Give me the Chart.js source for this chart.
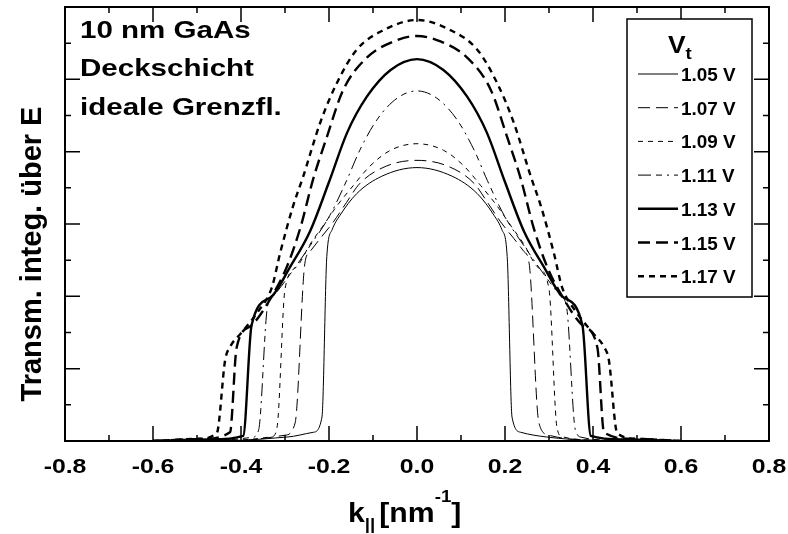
<!DOCTYPE html>
<html>
<head>
<meta charset="utf-8">
<script src="https://cdn.jsdelivr.net/npm/chart.js@4"></script>
<style>
  html, body { margin: 0; padding: 0; background: #fff; }
</style>
</head>
<body>
<canvas id="chartCanvas" width="788" height="534"></canvas>
<script>
// Transmission integrated over E versus parallel wave vector, one curve per bias
const voltages = ['1.05 V', '1.07 V', '1.09 V', '1.11 V', '1.13 V', '1.15 V', '1.17 V'];

const k105 = [-0.6, -0.4, -0.295, -0.236, -0.216, -0.205, -0.193, -0.175, -0.137, -0.08, 0, 0.08, 0.137, 0.175, 0.193, 0.205, 0.216, 0.236, 0.295, 0.4, 0.6];
const t105 = [0, 0.01, 0.055, 0.12, 0.33, 2.55, 2.92, 3.12, 3.42, 3.66, 3.78, 3.66, 3.42, 3.12, 2.92, 2.55, 0.33, 0.12, 0.055, 0.01, 0];

const k107 = [-0.6, -0.4, -0.3, -0.277, -0.255, -0.243, -0.22, -0.19, -0.16, -0.13, -0.07, 0, 0.07, 0.13, 0.16, 0.19, 0.22, 0.243, 0.255, 0.277, 0.3, 0.4, 0.6];
const t107 = [0, 0.01, 0.08, 0.25, 2.45, 2.62, 2.8, 3.03, 3.3, 3.56, 3.8, 3.88, 3.8, 3.56, 3.3, 3.03, 2.8, 2.62, 2.45, 0.25, 0.08, 0.01, 0];

const k109 = [-0.6, -0.42, -0.33, -0.318, -0.3, -0.273, -0.243, -0.214, -0.182, -0.145, -0.107, -0.06, 0, 0.06, 0.107, 0.145, 0.182, 0.214, 0.243, 0.273, 0.3, 0.318, 0.33, 0.42, 0.6];
const t109 = [0, 0.01, 0.06, 0.19, 2.1, 2.41, 2.72, 2.97, 3.25, 3.53, 3.8, 4.02, 4.11, 4.02, 3.8, 3.53, 3.25, 2.97, 2.72, 2.41, 2.1, 0.19, 0.06, 0.01, 0];

const k111 = [-0.6, -0.45, -0.375, -0.36, -0.34, -0.327, -0.289, -0.243, -0.198, -0.16, -0.13, -0.09, -0.045, 0, 0.045, 0.09, 0.13, 0.16, 0.198, 0.243, 0.289, 0.327, 0.34, 0.36, 0.375, 0.45, 0.6];
const t111 = [0, 0.01, 0.05, 0.15, 1.85, 2.0, 2.3, 2.7, 3.12, 3.6, 4.02, 4.45, 4.74, 4.84, 4.74, 4.45, 4.02, 3.6, 3.12, 2.7, 2.3, 2.0, 1.85, 0.15, 0.05, 0.01, 0];

const k113 = [-0.6, -0.47, -0.395, -0.376, -0.33, -0.289, -0.243, -0.2, -0.159, -0.114, -0.06, 0, 0.06, 0.114, 0.159, 0.2, 0.243, 0.289, 0.33, 0.376, 0.395, 0.47, 0.6];
const t113 = [0, 0.02, 0.07, 1.6, 2.0, 2.4, 2.9, 3.58, 4.26, 4.76, 5.13, 5.28, 5.13, 4.76, 4.26, 3.58, 2.9, 2.4, 2.0, 1.6, 0.07, 0.02, 0];

const k115 = [-0.6, -0.49, -0.425, -0.41, -0.376, -0.33, -0.295, -0.265, -0.236, -0.205, -0.168, -0.114, -0.055, 0, 0.055, 0.114, 0.168, 0.205, 0.236, 0.265, 0.295, 0.33, 0.376, 0.41, 0.425, 0.49, 0.6];
const t115 = [0, 0.03, 0.12, 1.29, 1.6, 2.0, 2.42, 2.95, 3.62, 4.2, 4.85, 5.3, 5.52, 5.6, 5.52, 5.3, 4.85, 4.2, 3.62, 2.95, 2.42, 2.0, 1.6, 1.29, 0.12, 0.03, 0];

const k117 = [-0.6, -0.5, -0.455, -0.436, -0.425, -0.4, -0.36, -0.33, -0.311, -0.282, -0.259, -0.22, -0.182, -0.137, -0.076, 0, 0.076, 0.137, 0.182, 0.22, 0.259, 0.282, 0.311, 0.33, 0.36, 0.4, 0.425, 0.436, 0.455, 0.5, 0.6];
const t117 = [0, 0.03, 0.11, 1.12, 1.3, 1.49, 1.8, 2.12, 2.6, 3.24, 3.65, 4.4, 4.95, 5.41, 5.68, 5.82, 5.68, 5.41, 4.95, 4.4, 3.65, 3.24, 2.6, 2.12, 1.8, 1.49, 1.3, 1.12, 0.11, 0.03, 0];

const kSeries = [k105, k107, k109, k111, k113, k115, k117];
const tSeries = [t105, t107, t109, t111, t113, t115, t117];

const xMajor = [-0.8, -0.6, -0.4, -0.2, 0, 0.2, 0.4, 0.6, 0.8];
const xLabels = ['-0.8', '-0.6', '-0.4', '-0.2', '0.0', '0.2', '0.4', '0.6', '0.8'];
const yMajor = [0, 1, 2, 3, 4, 5, 6];

const noteLines = ['10 nm GaAs', 'Deckschicht', 'ideale Grenzfl.'];

// line look per bias: thin for the lower four, heavy for the upper three
const widths = [1, 1, 1, 1, 2.4, 2.4, 2.4];
const dashes = [[], [12, 6], [5, 5], [13, 5, 6, 5, 2, 5], [], [12, 6], [6, 5]];

const FONT = '"Liberation Sans", Arial, Helvetica, sans-serif';

const datasets = voltages.map((v, i) => ({
    label: v,
    data: kSeries[i].map((k, j) => ({ x: k, y: tSeries[i][j] })),
    borderColor: '#000',
    borderWidth: widths[i],
    borderDash: dashes[i],
    pointRadius: 0,
    fill: false,
    cubicInterpolationMode: 'monotone'
}));

// bold text, widened horizontally by sx; returns drawn width
function wideText(ctx, s, x, y, size, sx, align) {
    ctx.save();
    ctx.font = 'bold ' + size + 'px ' + FONT;
    const w = ctx.measureText(s).width * sx;
    const x0 = align === 'center' ? x - w / 2 : x;
    ctx.translate(x0, y);
    ctx.scale(sx, 1);
    ctx.textAlign = 'left';
    ctx.textBaseline = 'alphabetic';
    ctx.fillText(s, 0, 0);
    ctx.restore();
    return w;
}

// frame, inward ticks on all four sides, tick labels, titles, note and legend
const decorations = {
    id: 'decorations',
    afterDraw(chart) {
        const ctx = chart.ctx;
        const a = chart.chartArea;
        const xs = chart.scales.x;
        const ys = chart.scales.y;
        ctx.save();
        ctx.strokeStyle = '#000';
        ctx.fillStyle = '#000';

        ctx.lineWidth = 1.5;
        ctx.beginPath();
        for (let i = 0; i < xMajor.length; i++) {
            const px = xs.getPixelForValue(xMajor[i]);
            if (i > 0 && i < xMajor.length - 1) {
                ctx.moveTo(px, a.bottom); ctx.lineTo(px, a.bottom - 15);
                ctx.moveTo(px, a.top); ctx.lineTo(px, a.top + 15);
            }
            if (i < xMajor.length - 1) {
                const pm = xs.getPixelForValue((xMajor[i] + xMajor[i + 1]) / 2);
                ctx.moveTo(pm, a.bottom); ctx.lineTo(pm, a.bottom - 6);
                ctx.moveTo(pm, a.top); ctx.lineTo(pm, a.top + 6);
            }
        }
        for (let i = 0; i < yMajor.length; i++) {
            const py = ys.getPixelForValue(yMajor[i]);
            if (i > 0 && i < yMajor.length - 1) {
                ctx.moveTo(a.left, py); ctx.lineTo(a.left + 15, py);
                ctx.moveTo(a.right, py); ctx.lineTo(a.right - 15, py);
            }
            if (i < yMajor.length - 1) {
                const pm = ys.getPixelForValue((yMajor[i] + yMajor[i + 1]) / 2);
                ctx.moveTo(a.left, pm); ctx.lineTo(a.left + 6, pm);
                ctx.moveTo(a.right, pm); ctx.lineTo(a.right - 6, pm);
            }
        }
        ctx.stroke();

        ctx.lineWidth = 2;
        ctx.strokeRect(a.left, a.top, a.right - a.left, a.bottom - a.top);

        // x tick labels
        xMajor.forEach((v, i) => wideText(ctx, xLabels[i], xs.getPixelForValue(v), 473, 20, 1.24, 'center'));

        // y title
        ctx.save();
        ctx.translate(41, 254);
        ctx.rotate(-Math.PI / 2);
        ctx.font = 'bold 29px ' + FONT;
        ctx.textAlign = 'center';
        ctx.textBaseline = 'alphabetic';
        ctx.fillText('Transm. integ. über E', 0, 0);
        ctx.restore();

        // x title: k|| [nm^-1]
        let cx = 348;
        cx += wideText(ctx, 'k', cx, 522, 27, 1.12);
        cx += wideText(ctx, '||', cx, 530, 17, 1.1) + 4;
        cx += wideText(ctx, '[nm', cx, 522, 27, 1.12);
        cx += wideText(ctx, '-1', cx, 502, 17, 1.1);
        wideText(ctx, ']', cx, 522, 27, 1.12);

        // note in the upper left corner
        noteLines.forEach((s, i) => wideText(ctx, s, 80, 38 + i * 38.3, 24, 1.23));

        // legend
        const lx = 627, ly = 19, lw = 125, lh = 278;
        ctx.fillStyle = '#fff';
        ctx.fillRect(lx, ly, lw, lh);
        ctx.fillStyle = '#000';
        ctx.lineWidth = 1.5;
        ctx.strokeRect(lx, ly, lw, lh);
        const vw = wideText(ctx, 'V', 668, 53, 24, 1.1);
        wideText(ctx, 't', 668 + vw, 59, 17, 1.1);
        chart.data.datasets.forEach((ds, i) => {
            const y = 74 + i * 33.7;
            ctx.lineWidth = ds.borderWidth;
            ctx.setLineDash(ds.borderDash);
            ctx.beginPath();
            ctx.moveTo(638, y);
            ctx.lineTo(678, y);
            ctx.stroke();
            ctx.setLineDash([]);
            wideText(ctx, ds.label, 681, y + 7, 18, 1.05);
        });
        ctx.restore();
    }
};

const ctx = document.getElementById('chartCanvas').getContext('2d');
const chart = new Chart(ctx, {
    type: 'line',
    data: { datasets: datasets },
    options: {
        responsive: false,
        animation: false,
        events: [],
        layout: { padding: { left: 0, right: 19, top: 7, bottom: 0 } },
        plugins: { legend: { display: false }, tooltip: { enabled: false } },
        scales: {
            x: {
                type: 'linear',
                min: -0.8,
                max: 0.8,
                afterBuildTicks: s => { s.ticks = xMajor.map(v => ({ value: v })); },
                afterFit: s => { s.height = 93; },
                ticks: { display: false },
                grid: { display: false },
                border: { display: false }
            },
            y: {
                type: 'linear',
                min: 0,
                max: 6,
                afterFit: s => { s.width = 65; },
                ticks: { display: false },
                grid: { display: false },
                border: { display: false }
            }
        }
    },
    plugins: [decorations]
});
</script>
</body>
</html>
